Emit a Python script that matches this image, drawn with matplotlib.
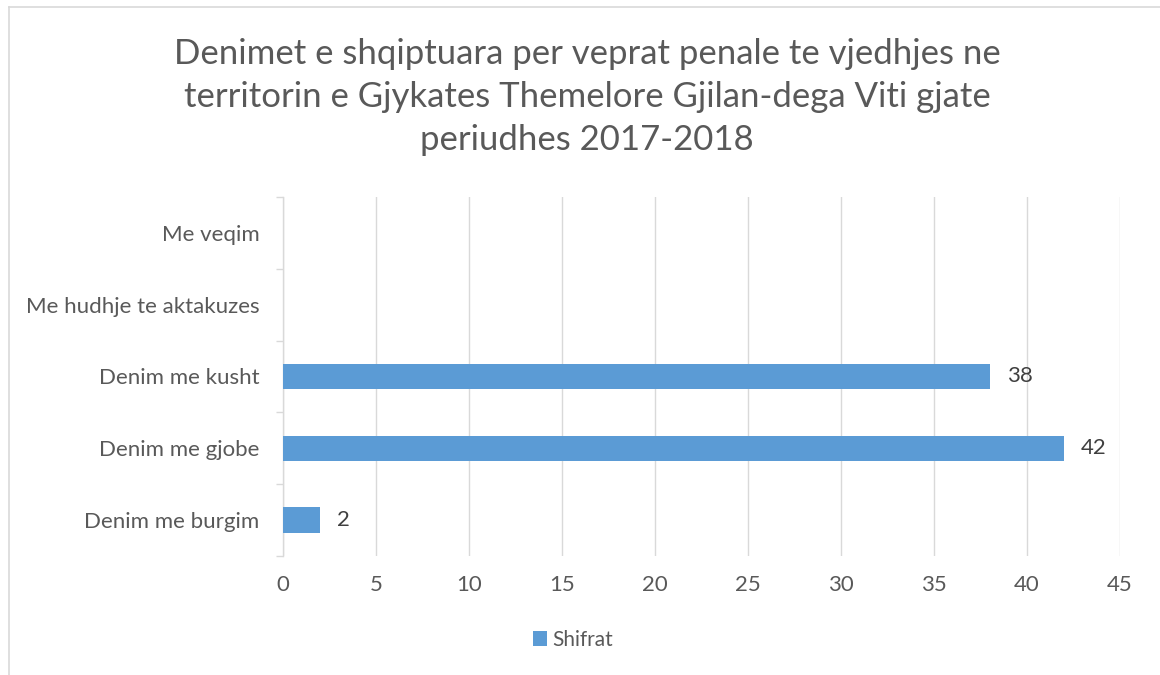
import numpy as np
import matplotlib
matplotlib.use("Agg")
import matplotlib.pyplot as plt
from matplotlib.lines import Line2D

# Te dhenat (nga poshte lart, si ne grafik)
kategorite = ["Denim me burgim", "Denim me gjobe", "Denim me kusht",
              "Me hudhje te aktakuzes", "Me veqim"]
shifrat = [2, 42, 38, np.nan, np.nan]
x_ticks = [0, 5, 10, 15, 20, 25, 30, 35, 40, 45]
titulli = ("Denimet e shqiptuara per veprat penale te vjedhjes ne\n"
           "territorin e Gjykates Themelore Gjilan-dega Viti gjate\n"
           "periudhes 2017-2018")

ngjyra_bar = "#5B9BD5"
ngjyra_tekst = "#595959"
ngjyra_grid = "#D9D9D9"

plt.rcParams['font.family'] = ['Lato', 'DejaVu Sans']

fig = plt.figure(figsize=(11.6, 6.75), dpi=100)
ax = fig.add_axes([0.2440, 0.1763, 0.7216, 0.5319])

y = np.arange(len(kategorite))
ax.barh(y, shifrat, height=0.355, color=ngjyra_bar, label="Shifrat", zorder=3)

# etiketat e vlerave
for yi, v in zip(y, shifrat):
    if not np.isnan(v):
        ax.annotate(f"{v:g}", xy=(v, yi), xytext=(12, 0), textcoords="offset points",
                    ha="left", va="center", fontsize=16, color="#404040")

ax.set_xlim(0, 45)
ax.set_ylim(-0.5, len(kategorite) - 0.5)
ax.set_xticks(x_ticks)
ax.set_yticks(y)
ax.set_yticklabels(kategorite)
ax.set_yticks(np.arange(-0.5, len(kategorite)), minor=True)

ax.grid(axis="x", color=ngjyra_grid, linewidth=1.0, zorder=0)
for s in ["top", "right", "bottom"]:
    ax.spines[s].set_visible(False)
ax.spines["left"].set_color(ngjyra_grid)
ax.spines["left"].set_linewidth(1.0)

ax.tick_params(axis="x", length=0, pad=14, labelsize=16, labelcolor=ngjyra_tekst)
ax.tick_params(axis="y", which="major", length=0, pad=17, labelsize=16, labelcolor=ngjyra_tekst)
ax.tick_params(axis="y", which="minor", length=5, width=1.0, color=ngjyra_grid)

fig.text(0.506, 0.856, titulli, ha="center", va="center", fontsize=25,
         color=ngjyra_tekst, linespacing=1.42)

ax.legend(loc="center", bbox_to_anchor=(0.494, 1 - 640 / 675), bbox_transform=fig.transFigure,
          frameon=False, fontsize=15, handlelength=0.7, handleheight=0.75,
          handletextpad=0.25, labelcolor=ngjyra_tekst)

# korniza e grafikut
fig.add_artist(Line2D([9 / 1160, 9 / 1160], [0, 1 - 7 / 675], color=ngjyra_grid, linewidth=1.2))
fig.add_artist(Line2D([9 / 1160, 1], [1 - 7 / 675, 1 - 7 / 675], color=ngjyra_grid, linewidth=1.2))

fig.savefig("out.png", dpi=100, facecolor="white")
